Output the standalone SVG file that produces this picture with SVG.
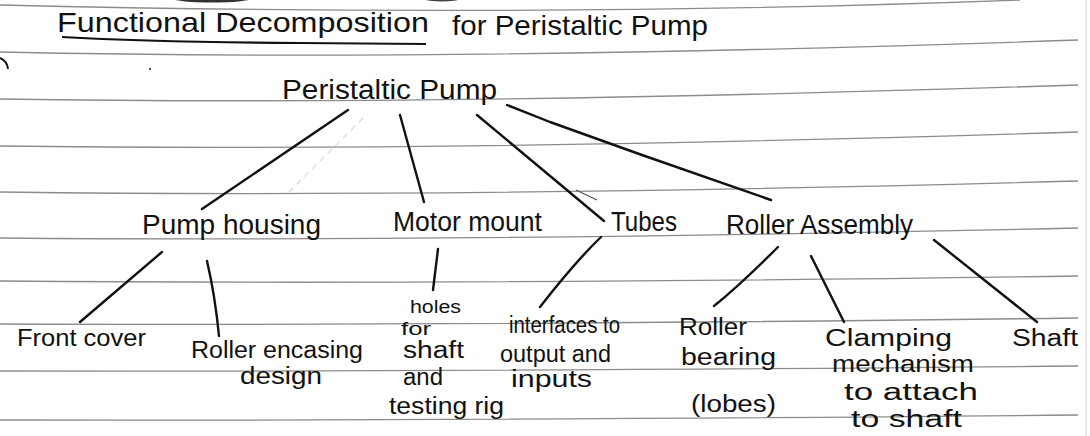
<svg xmlns="http://www.w3.org/2000/svg" width="1090" height="436" viewBox="0 0 1090 436">
  <style>
    .rule { fill: none; stroke: #8c8c8c; stroke-width: 1.3; }
    .conn { fill: none; stroke: #111; stroke-width: 2.4; stroke-linecap: round; stroke-linejoin: round; }
    .t1 { font-family: "Liberation Sans", "DejaVu Sans", sans-serif; font-size: 28px; fill: #111; }
    .t2 { font-family: "Liberation Sans", "DejaVu Sans", sans-serif; font-size: 27px; fill: #111; }
    .t3 { font-family: "Liberation Sans", "DejaVu Sans", sans-serif; font-size: 23px; fill: #111; }
    .t4 { font-family: "Liberation Sans", "DejaVu Sans", sans-serif; font-size: 18px; fill: #111; }
  </style>
  <rect width="1090" height="436" fill="#ffffff"/>
  <g id="paper">
    <path class="rule" d="M 0 5 Q 545 18 1020 0"/>
    <path class="rule" d="M 0 52 Q 450 62 1078 40"/>
    <path class="rule" d="M 0 99 Q 450 106 1078 85"/>
    <path class="rule" d="M 0 146 Q 450 152 1078 132"/>
    <path class="rule" d="M 0 192 Q 450 198 1078 181"/>
    <path class="rule" d="M 0 238 Q 450 242 1078 228"/>
    <path class="rule" d="M 0 281 Q 450 285 1078 276"/>
    <path class="rule" d="M 0 324 Q 450 326 1078 318"/>
    <path class="rule" d="M 0 371 Q 450 372 1078 366"/>
    <path class="rule" d="M 0 420 Q 450 421 1078 415"/>
    <line x1="1086" y1="0" x2="1086" y2="436" stroke="#d4d4d4" stroke-width="1"/>
    <ellipse cx="212" cy="-1" rx="38" ry="3.5" fill="#333"/>
    <ellipse cx="442" cy="-1" rx="17" ry="2.5" fill="#444"/>
    <path d="M 0 58 Q 7 61 8 69" fill="none" stroke="#111" stroke-width="2"/>
    <circle cx="150" cy="69" r="1.2" fill="#555"/>
    <path d="M 363 118 L 285 196" fill="none" stroke="#d8d8d8" stroke-width="1.2" stroke-dasharray="6 5"/>
    <path d="M 576 190 L 597 200" fill="none" stroke="#555" stroke-width="1.2"/>
  </g>
  <g id="title">
    <text class="t1" x="57" y="32" textLength="372" lengthAdjust="spacingAndGlyphs">Functional Decomposition</text>
    <path d="M 62 37 Q 150 42 300 43 L 426 44" fill="none" stroke="#111" stroke-width="2.2"/>
    <text class="t1" x="452" y="35" textLength="256" lengthAdjust="spacingAndGlyphs">for Peristaltic Pump</text>
  </g>
  <g id="connectors">
    <path class="conn" d="M 348 110 L 202 209"/>
    <path class="conn" d="M 400 115 L 424 202"/>
    <path class="conn" d="M 477 115 L 604 221"/>
    <path class="conn" d="M 507 105 L 550 122 L 642 155 L 771 200"/>
    <path class="conn" d="M 162 252 L 80 322"/>
    <path class="conn" d="M 207 261 Q 215 295 219 336"/>
    <path class="conn" d="M 438 249 L 433 290"/>
    <path class="conn" d="M 601 237 Q 575 262 540 307"/>
    <path class="conn" d="M 778 247 Q 740 285 714 306"/>
    <path class="conn" d="M 811 256 L 844 322"/>
    <path class="conn" d="M 934 240 L 1037 322"/>
  </g>
  <g id="node-peristaltic-pump">
    <text class="t2" x="282" y="99" textLength="215" lengthAdjust="spacingAndGlyphs">Peristaltic Pump</text>
  </g>
  <g id="node-pump-housing">
    <text class="t2" x="142" y="234" textLength="179" lengthAdjust="spacingAndGlyphs">Pump housing</text>
  </g>
  <g id="node-motor-mount">
    <text class="t2" x="393" y="231" textLength="149" lengthAdjust="spacingAndGlyphs">Motor mount</text>
  </g>
  <g id="node-tubes">
    <text class="t2" x="611" y="231" textLength="66" lengthAdjust="spacingAndGlyphs">Tubes</text>
  </g>
  <g id="node-roller-assembly">
    <text class="t2" x="726" y="234" textLength="187" lengthAdjust="spacingAndGlyphs">Roller Assembly</text>
  </g>
  <g id="node-front-cover">
    <text class="t3" x="17" y="346" textLength="129" lengthAdjust="spacingAndGlyphs">Front cover</text>
  </g>
  <g id="node-roller-encasing">
    <text class="t3" x="191" y="358" textLength="172" lengthAdjust="spacingAndGlyphs">Roller encasing</text>
    <text class="t3" x="240" y="384" textLength="82" lengthAdjust="spacingAndGlyphs">design</text>
  </g>
  <g id="node-holes">
    <text class="t4" x="410" y="313" textLength="51" lengthAdjust="spacingAndGlyphs">holes</text>
    <text class="t4" x="401" y="335" textLength="30" lengthAdjust="spacingAndGlyphs">for</text>
    <text class="t3" x="403" y="358" textLength="61" lengthAdjust="spacingAndGlyphs">shaft</text>
    <text class="t3" x="403" y="385" textLength="40" lengthAdjust="spacingAndGlyphs">and</text>
    <text class="t3" x="389" y="414" textLength="115" lengthAdjust="spacingAndGlyphs">testing rig</text>
  </g>
  <g id="node-interfaces">
    <text class="t3" x="509" y="333" textLength="111" lengthAdjust="spacingAndGlyphs">interfaces to</text>
    <text class="t3" x="500" y="362" textLength="111" lengthAdjust="spacingAndGlyphs">output and</text>
    <text class="t3" x="511" y="387" textLength="81" lengthAdjust="spacingAndGlyphs">inputs</text>
  </g>
  <g id="node-roller-bearing">
    <text class="t3" x="679" y="335" textLength="68" lengthAdjust="spacingAndGlyphs">Roller</text>
    <text class="t3" x="681" y="365" textLength="95" lengthAdjust="spacingAndGlyphs">bearing</text>
    <text class="t3" x="691" y="412" textLength="85" lengthAdjust="spacingAndGlyphs">(lobes)</text>
  </g>
  <g id="node-clamping">
    <text class="t3" x="825" y="346" textLength="127" lengthAdjust="spacingAndGlyphs">Clamping</text>
    <text class="t3" x="832" y="372" textLength="142" lengthAdjust="spacingAndGlyphs">mechanism</text>
    <text class="t3" x="844" y="400" textLength="134" lengthAdjust="spacingAndGlyphs">to attach</text>
    <text class="t3" x="851" y="427" textLength="111" lengthAdjust="spacingAndGlyphs">to shaft</text>
  </g>
  <g id="node-shaft">
    <text class="t3" x="1012" y="346" textLength="66" lengthAdjust="spacingAndGlyphs">Shaft</text>
  </g>
</svg>
